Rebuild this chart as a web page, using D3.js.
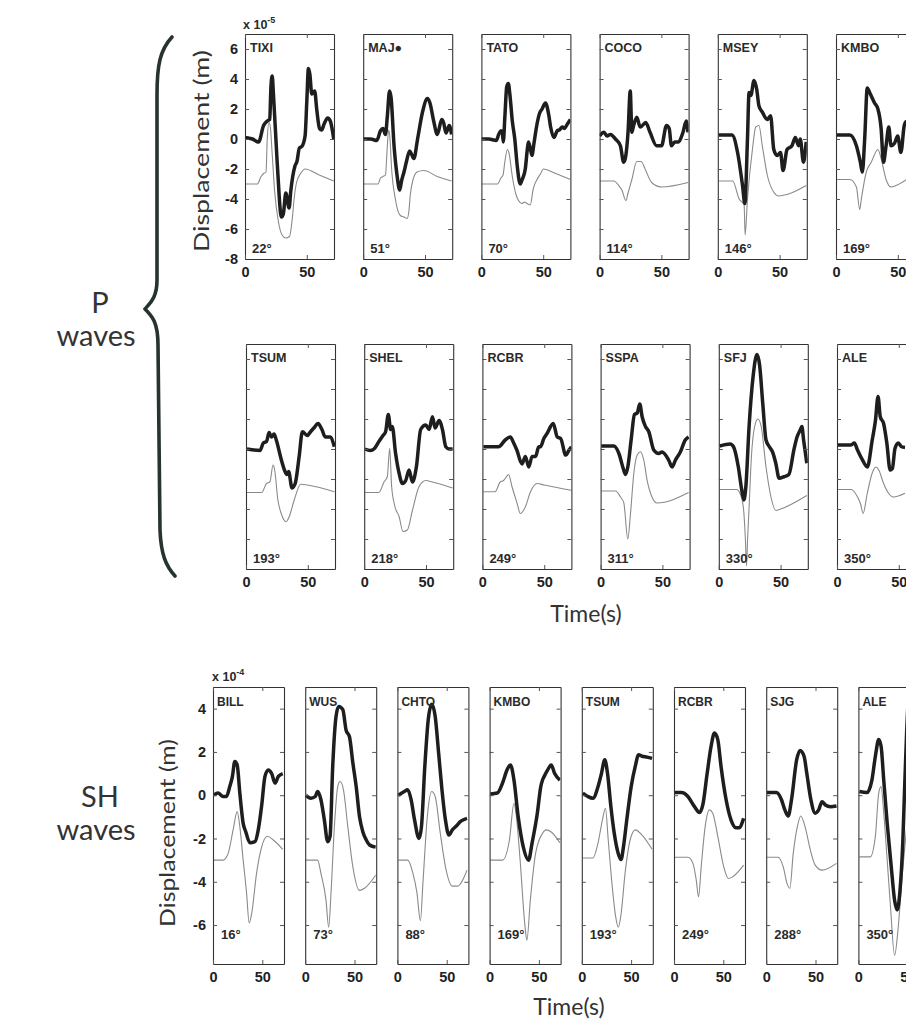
<!DOCTYPE html>
<html>
<head>
<meta charset="utf-8">
<script src="https://cdn.jsdelivr.net/npm/d3@7"></script>
<style>
  body { margin: 0; background: #fff; }
  svg { display: block; }
  .tick text { font-family: 'Liberation Sans', Arial, sans-serif; fill: #222; font-weight: bold; }
  .big { font-family: Lato, 'Open Sans', sans-serif; fill: #333; }
</style>
</head>
<body>
<script>
const W = 906;
const H = 1023;

// ---- P waves ----
const pStations = ['TIXI', 'MAJ\u25CF', 'TATO', 'COCO', 'MSEY', 'KMBO',
                   'TSUM', 'SHEL', 'RCBR', 'SSPA', 'SFJ', 'ALE'];
const pAzimuths = [22, 51, 70, 114, 146, 169, 193, 218, 249, 311, 330, 350];
const pYTicks = [-8, -6, -4, -2, 0, 2, 4, 6];

// observed (thick black), [time s, displacement x1e-5 m]
const pObserved = [
  [[0,0.1],[6,0],[11,-0.2],[15,0.9],[18,1.2],[20,1.3],[21,3.5],[22,4.2],[23,3.0],[26,-1.5],[29.5,-5.2],[31,-5.0],[33,-3.6],[35.7,-4.6],[37,-3.5],[40.4,-1.8],[42,-1.5],[44,-0.6],[46,-0.5],[48.6,0.2],[50,2.5],[51.3,4.7],[52.5,4.3],[54,3.0],[56.4,3.2],[58,2.0],[60.3,0.7],[62,0.6],[64,1.0],[66.9,1.4],[69,1.2],[71.8,0]],
  [[0,0],[6,0],[11,-0.1],[14,0.55],[16,0.7],[18,0.3],[19.5,1.5],[21.3,3.2],[22.5,2.8],[25,-0.5],[27.5,-2.5],[29.5,-3.4],[31,-2.8],[33,-2.2],[35,-1.5],[37.6,-0.8],[39,-1],[41,-1.3],[44,0],[48,1.8],[52,2.7],[54,2.4],[57,1.2],[60,0.3],[63.5,1.3],[65,1.1],[67,0.4],[69.6,0.9],[71.5,0.3]],
  [[0,0],[6,0],[12,-0.1],[14,0.3],[15.8,0.55],[17,0.4],[17.7,-0.2],[19,1.5],[20.5,3.5],[21.8,3.7],[23,3.0],[25,1.2],[27,0],[29,-1.8],[31.4,-3.0],[33,-2.7],[35.5,-2.0],[37,-0.8],[38,-0.2],[39.5,-0.6],[40.9,-1.1],[42.5,-0.3],[45,1.0],[47,1.7],[49.1,2.0],[51.8,2.4],[54.5,1.6],[56,0.8],[58.6,0.1],[61.4,0.55],[63,0.6],[65.5,0.8],[67,0.7],[69.6,1.0],[72,1.3]],
  [[0,0.2],[3.5,0.45],[6,0.2],[8.8,0.3],[12.8,0],[16.8,-0.45],[19.5,-1.55],[20.8,-1.3],[23,0.45],[24.8,3.2],[26.1,0.45],[27.5,0.9],[30.1,1.45],[32.8,0.8],[34,0.85],[37.3,1.1],[40.8,0.45],[46.1,-0.45],[50.1,-0.45],[54.1,0.9],[56.3,0.7],[58.1,-0.45],[60.8,-0.2],[63.5,-0.2],[67.5,0.45],[70.1,1.2],[71.5,0.45]],
  [[0.5,0.27],[11.5,0.27],[16,-0.9],[20,-3.1],[21.9,-4.3],[24,0],[25.3,3.1],[26.7,2.9],[29.3,3.9],[31.5,3.3],[33.3,2.2],[36,1.8],[40,1.3],[42.7,1.55],[45.3,-0.7],[48,-1.1],[50.7,-0.9],[52.8,-2.1],[56,-0.7],[60,-0.45],[62.7,0.1],[65.3,-0.45],[66.7,0],[69.3,-1.55],[71.5,-0.2]],
  [[0.5,0.27],[11.2,0.27],[16.5,-0.45],[19.7,-1.55],[21.3,-2.2],[23.2,0],[25.3,3.4],[27.2,3.1],[31.2,2.4],[33.9,2.0],[36.5,0.7],[38.4,-1.55],[40.5,-0.45],[42.7,0.8],[44.5,-0.45],[47.2,-0.3],[49.9,0.2],[52.5,-0.9],[55.2,0.9],[57,1.2]],
  [[0.8,0],[11.3,-0.1],[14,0.4],[16.6,0.5],[18.7,1.1],[20.6,0.8],[22.7,1.0],[24.5,0.6],[28.5,-0.7],[31.1,-1.4],[33,-1.7],[34.5,-1.5],[37.2,-2.6],[39.8,-2.3],[43,-0.5],[45.6,1.15],[49.6,0.9],[52.2,1.15],[54.9,1.4],[58.3,1.7],[61.4,1.3],[64.1,0.8],[68,0.8],[71.5,0.15]],
  [[0.5,0],[5,-0.1],[7.9,0],[11.9,0.5],[15.2,0.9],[17.3,1.15],[19.5,2.3],[21.4,1.3],[22.7,1.5],[25.4,-0.3],[28.2,-1.6],[30.9,-2.3],[33.6,-2.1],[36.3,-1.4],[39,-2.2],[42.2,-1.2],[45.7,1.3],[49.8,1.6],[52.5,1.3],[55.2,2.15],[57.4,1.4],[60.6,1.9],[63.3,1.3],[66,0.15],[68.8,0],[71.5,0]],
  [[0.8,0.15],[13,0.15],[18.5,0.6],[22.6,0.8],[25.3,0.4],[28,-0.1],[32,-1],[34.8,-0.5],[37.5,-1.2],[40.2,-0.5],[43,-0.5],[45.6,0.15],[47,0.15],[49.7,0.7],[52.4,1.05],[57.3,1.7],[60.6,0.8],[63.3,0.7],[67.4,-0.4],[70.1,-0.07],[72,0.15]],
  [[0.5,0.2],[10.7,0.2],[14.8,-0.3],[18.3,-1.3],[20.2,-1.7],[22,-1.2],[24.7,0.6],[27.4,2.3],[29.6,2.4],[31.7,3.0],[33.6,2.15],[36.3,1.5],[39,1.15],[43,-0.07],[47,-0.3],[49.7,-0.2],[55.1,-0.75],[57.8,-1.2],[60.5,-0.75],[64.5,-0.2],[68.5,0.6],[71.2,0.8]],
  [[0.8,0.2],[9.2,0.33],[11.9,0.15],[15.8,-1.2],[18.5,-2.7],[20.3,-3.4],[21.9,-2.5],[24.5,1.5],[27.7,4.8],[30.9,6.3],[33,5.6],[35.6,3.0],[38.2,0.6],[40.9,0.15],[43.5,-0.2],[46.1,-0.95],[48.8,-1.95],[52.7,-1.85],[56.7,-1.7],[60.7,-0.07],[63.3,0.8],[65.9,1.27],[67.2,1.5],[68.6,0.6],[71.2,-0.95]],
  [[0.8,0.27],[11.3,0.27],[14,0.4],[16.6,-0.07],[20.6,-0.73],[24.5,-1.2],[28.5,0.6],[31.1,1.9],[33.2,3.5],[35,2.15],[37.7,1.7],[40.3,0.4],[43,-1.4],[44.8,-1.3],[46.9,0.04],[49.6,0.4],[52.2,0.15],[55,0.1]]
];

// synthetic (thin grey), offset downwards
const pSynthetic = [
  [[0,-3],[10,-3],[13,-2.5],[15,-2.3],[17,-2.2],[18,0],[19.4,1.1],[20.5,0.8],[22,-1],[24,-3.5],[27,-5.5],[30,-6.4],[33,-6.6],[36,-6.5],[38,-5.5],[40,-3.8],[41.7,-2.9],[45,-2.3],[48.6,-2.0],[60,-2.4],[71.8,-2.8]],
  [[0,-3],[12,-3],[14,-2.6],[16,-2.5],[18,-2.4],[19.5,-0.5],[20.5,0.6],[21.5,0.2],[23,-2],[26,-4],[30,-5.1],[33,-5.2],[35.5,-5.3],[37,-4.8],[38,-3.8],[40,-2.8],[43.6,-2.2],[49,-2.1],[60,-2.5],[71.5,-2.8]],
  [[0,-3],[13,-3],[15.8,-2.6],[17.5,-2.4],[19,-1.5],[21,-0.7],[22.5,-1.0],[25,-2.5],[28,-3.7],[30,-4.1],[32.7,-4.3],[35,-4.2],[37,-4.3],[39.5,-4.4],[42,-3.3],[45,-2.7],[48,-2.3],[50,-2.0],[60,-2.3],[72,-2.7]],
  [[0,-2.8],[11.5,-2.8],[15.5,-3.1],[18,-3.4],[21.3,-4.1],[23,-3.6],[26.1,-2.7],[30.1,-1.5],[33.6,-1.5],[36.8,-2.0],[42.1,-2.9],[50.1,-3.2],[71.5,-2.9]],
  [[0.5,-2.8],[12,-2.8],[17.3,-4],[21.3,-4.4],[22.1,-6.4],[24,-4.0],[28,-0.7],[30.7,0.8],[33.3,0.9],[36,-0.45],[40,-2.4],[45.3,-3.55],[49.3,-3.8],[56,-3.7],[71.5,-3.1]],
  [[0.5,-2.7],[11.2,-2.7],[16.5,-3.2],[19.2,-4.7],[20.5,-4],[24.5,-2.2],[28.5,-1.55],[33.9,-0.7],[36.5,-1.3],[40.5,-2.7],[44.5,-3.2],[48.5,-3.1],[57,-2.7]],
  [[0.8,-2.9],[12.7,-2.9],[16.6,-2.3],[19.3,-2.2],[21.9,-1.07],[23.2,-1.4],[25.8,-3.4],[28.5,-4.3],[32.4,-4.85],[35,-4.5],[39,-3.4],[44.3,-2.35],[49.6,-2.4],[71.5,-2.85]],
  [[0.5,-2.9],[11.9,-2.9],[16,-2.2],[18.7,-1.85],[20.6,0.05],[22.2,-2.5],[24.9,-3.85],[28.2,-4.5],[31.4,-5.5],[34.9,-5.4],[39,-4.1],[44.4,-2.5],[49.8,-2.1],[55.2,-2.2],[71.5,-2.6]],
  [[0.8,-2.85],[10.3,-2.85],[14.4,-2.2],[17.1,-2.1],[19,-1.9],[21.2,-1.7],[23.9,-2.5],[28,-3.6],[30.7,-4.3],[34.8,-3.85],[38.9,-2.85],[44.3,-2.3],[50,-2.4],[72,-2.75]],
  [[0.5,-2.8],[12.1,-2.8],[16.1,-3.2],[18.8,-3.6],[22,-6.0],[24.2,-4.3],[26.9,-1.6],[29.6,-0.4],[32.2,-0.18],[34.9,-0.73],[37.6,-2.07],[41.6,-3.2],[45.7,-3.6],[71.2,-2.9]],
  [[0.8,-2.7],[14.5,-2.7],[17.1,-2.95],[19.8,-3.85],[21.5,-6],[22.4,-7.8],[23.3,-6],[24.5,-3.9],[26.4,-0.5],[29,1.5],[31.6,2.0],[34.3,1.5],[38.2,-1.2],[42.2,-3.2],[46.1,-4.1],[50.1,-4.0],[71.2,-3.1]],
  [[0.8,-2.7],[11.3,-2.7],[16.6,-3.2],[19.2,-3.7],[21.1,-4.3],[24.5,-2.95],[28.5,-1.6],[31.6,-1.2],[33.8,-1.4],[37.7,-2.3],[41.7,-2.95],[45.6,-3.2],[55,-2.95]]
];

// ---- SH waves ----
const shStations = ['BILL', 'WUS', 'CHTO', 'KMBO', 'TSUM', 'RCBR', 'SJG', 'ALE'];
const shAzimuths = [16, 73, 88, 169, 193, 249, 288, 350];
const shYTicks = [-6, -4, -2, 0, 2, 4];

// observed (thick black), [time s, displacement x1e-4 m]
const shObserved = [
  [[0.7,0],[5.1,0.1],[10.2,-0.06],[13.6,-0.06],[17,0.4],[19.7,0.87],[22.1,1.56],[24.5,1.4],[27.2,0.1],[30.6,-1.3],[33.3,-1.7],[37.4,-2.2],[42.5,-2.15],[45.9,-1.6],[49.3,-0.5],[52.7,0.87],[56.1,1.17],[59.5,1.0],[62.9,0.56],[66.3,0.87],[70.7,1.0]],
  [[0.7,0],[5.8,-0.14],[10.2,-0.06],[12.6,0.17],[15.9,-0.2],[19.4,-1.14],[22.8,-2.15],[25.2,-1.9],[27.9,1.33],[31.3,3.65],[34,4.1],[38.1,3.96],[41.5,3.0],[44.9,2.7],[48.3,1.5],[51.7,0.4],[55.1,-1.0],[58.5,-1.7],[61.9,-2.07],[65.3,-2.3],[71.4,-2.4]],
  [[1,0],[7,0.17],[10.4,0.25],[13.9,-0.2],[17.4,-1.14],[21.9,-2.0],[24.4,-1.45],[27.8,1.33],[31.3,3.5],[34.8,4.2],[38.3,3.65],[41.8,1.95],[45.2,0.25],[48.7,-1.14],[52.2,-1.84],[55.7,-1.6],[59.2,-1.45],[64.4,-1.2],[70.6,-1.07]],
  [[0.7,0.06],[7.8,0.1],[13.1,0.56],[17.7,1.17],[21.2,1.4],[24.7,0.7],[29,-1.0],[34.2,-2.4],[39.5,-3.0],[43.1,-2.2],[48.4,-0.83],[51.9,0.4],[53.7,0.7],[55.4,0.87],[58.9,1.17],[62.5,1.4],[66,1.0],[71.3,0.7]],
  [[1,0.1],[6.2,-0.06],[11.3,-0.14],[16.5,0.4],[19.9,1.0],[23.3,1.64],[26.1,1.0],[29.5,-0.53],[32.9,-1.76],[37,-2.7],[39.8,-2.97],[42.2,-2.4],[45.6,-1.14],[50.1,0.4],[54.2,1.33],[57.6,1.87],[61.1,1.8],[66.2,1.76],[71.3,1.7]],
  [[0.7,0.12],[7.4,0.12],[14.1,-0.06],[20.8,-0.53],[25.9,-0.8],[29.2,-0.45],[33.6,1.0],[37.6,2.26],[41,2.87],[44.4,2.57],[47.7,1.33],[52.8,-0.2],[57.8,-1.14],[62.8,-1.5],[66,-1.5],[70.6,-1.07]],
  [[0.7,0.12],[10.3,0.12],[15.4,-0.2],[18.9,-0.68],[22.3,-0.96],[25.7,-0.2],[30.9,1.64],[34.3,2.07],[38.4,1.8],[41.2,1.0],[45.3,-0.2],[49.7,-0.83],[53.2,-0.68],[56.6,-0.3],[60,-0.45],[65.2,-0.53],[71.3,-0.5]],
  [[1,0.17],[8.6,0.12],[13.7,0.7],[17.2,1.8],[20.6,2.57],[23,2.26],[25.7,0.7],[29.2,-1.3],[33.3,-3.3],[36.7,-4.85],[39.4,-5.3],[42.2,-4.4],[45,-2.2],[47,0.5],[49,3.0],[51,5]]
];

// synthetic (thin grey), offset downwards
const shSynthetic = [
  [[0.7,-3.0],[10.2,-3.0],[15.3,-2.7],[20.4,-1.6],[24.5,-0.76],[27.2,-1.45],[30.6,-3.0],[34,-4.5],[36.7,-5.9],[39.1,-5.5],[44.2,-3.6],[49.3,-2.4],[55.1,-1.9],[61.2,-2.07],[70.7,-2.5]],
  [[0.7,-3.0],[12.6,-3.0],[15.9,-3.6],[21.1,-4.85],[23.8,-6.1],[26.2,-4.5],[29.6,-1.45],[33,0.4],[35.4,0.63],[38.8,0.25],[43.2,-1.45],[48.3,-3.3],[55.1,-4.4],[60.2,-4.3],[71.4,-3.7]],
  [[1,-3.0],[10.4,-3.0],[15.7,-3.6],[19.8,-4.5],[23.3,-5.8],[26.1,-3.9],[30.3,-1.0],[34.8,0.17],[38.3,-0.06],[43.5,-1.76],[48.7,-3.3],[55.7,-4.2],[60.9,-4.2],[70.6,-3.46]],
  [[0.7,-3.0],[13.1,-3.0],[20.1,-2.07],[24.7,-0.37],[27.2,-1.0],[30.7,-2.85],[36,-6.1],[37.8,-6.7],[41.3,-4.85],[46.6,-2.7],[53.7,-1.76],[57.2,-1.6],[62.5,-1.7],[71.3,-2.2]],
  [[1,-2.9],[11.3,-2.9],[16.5,-2.2],[20.9,-1.14],[24,-0.6],[26.8,-2.07],[30.2,-3.9],[34.3,-5.6],[37,-6.1],[39.8,-5.5],[43.9,-3.6],[49,-2.07],[54.2,-1.6],[61.1,-1.84],[71.3,-2.5]],
  [[0.7,-2.87],[14.1,-2.87],[19.2,-3.15],[22.5,-3.9],[24.9,-4.7],[27.6,-3.3],[31.6,-1.45],[36,-0.68],[39.3,-0.83],[44.4,-1.9],[50.4,-3.3],[55.1,-3.85],[59.5,-3.77],[70.6,-3.23]],
  [[0.7,-2.87],[12,-2.87],[17.2,-3.3],[21.3,-4.1],[24,-4.3],[27.4,-2.7],[31.6,-1.45],[35,-0.96],[39.4,-1.45],[44.6,-2.5],[49.7,-3.23],[56.6,-3.46],[71.3,-3.15]],
  [[1,-2.85],[12,-2.85],[17.2,-1.9],[20.6,0.1],[23,0.4],[25.7,-0.83],[29.2,-3.0],[32.6,-5.2],[36.7,-7.4],[40.1,-6.25],[44.6,-3.6],[49,-1.45]]
];

const timeTicks = [0, 50];
const timeDomain = [0, 72];

const svg = d3.select('body').append('svg')
  .attr('width', W)
  .attr('height', H)
  .attr('viewBox', [0, 0, W, H]);

const defs = svg.append('defs');
let panelCount = 0;

// one MATLAB-style subplot: boxed, inward ticks, two traces
function drawPanel(p) {
  const id = panelCount++;
  const x = d3.scaleLinear().domain(timeDomain).range([p.left, p.left + p.width]);
  const y = d3.scaleLinear().domain(p.yDomain).range([p.top + p.height, p.top]);

  defs.append('clipPath').attr('id', `clip${id}`)
    .append('rect')
      .attr('x', p.left).attr('y', p.top)
      .attr('width', p.width).attr('height', p.height);

  const g = svg.append('g').attr('class', 'panel');

  const line = d3.line()
    .x(d => x(d[0]))
    .y(d => y(d[1]))
    .curve(d3.curveMonotoneX);

  g.append('path')
    .datum(p.syn)
    .attr('clip-path', `url(#clip${id})`)
    .attr('d', line)
    .attr('fill', 'none')
    .attr('stroke', '#8a8a8a')
    .attr('stroke-width', 1.1);

  g.append('path')
    .datum(p.obs)
    .attr('clip-path', `url(#clip${id})`)
    .attr('d', line)
    .attr('fill', 'none')
    .attr('stroke', '#1e1e1e')
    .attr('stroke-width', 3.5)
    .attr('stroke-linejoin', 'round');

  const fmt = d => String(d);

  const axL = g.append('g')
    .attr('transform', `translate(${p.left},0)`)
    .call(d3.axisLeft(y).tickValues(p.yTicks).tickSizeInner(-4).tickSizeOuter(0)
      .tickPadding(7).tickFormat(p.yLabels ? fmt : ''));
  const axR = g.append('g')
    .attr('transform', `translate(${p.left + p.width},0)`)
    .call(d3.axisRight(y).tickValues(p.yTicks).tickSizeInner(-4).tickSizeOuter(0).tickFormat(''));
  const axB = g.append('g')
    .attr('transform', `translate(0,${p.top + p.height})`)
    .call(d3.axisBottom(x).tickValues(timeTicks).tickSizeInner(-4).tickSizeOuter(0)
      .tickPadding(8).tickFormat(fmt));
  const axT = g.append('g')
    .attr('transform', `translate(0,${p.top})`)
    .call(d3.axisTop(x).tickValues(timeTicks).tickSizeInner(-4).tickSizeOuter(0).tickFormat(''));

  [axL, axR, axB, axT].forEach(a => {
    a.selectAll('.domain').attr('stroke', '#333').attr('stroke-width', 1.1);
    a.selectAll('.tick line').attr('stroke', '#555');
    a.selectAll('.tick text').attr('font-size', 14.5).attr('font-family', null);
  });
  axB.selectAll('.tick text').attr('dy', '0.71em');

  g.append('text')
    .attr('x', p.left + p.nameDx)
    .attr('y', p.top + p.nameDy)
    .attr('font-family', "'Liberation Sans', Arial, sans-serif")
    .attr('font-weight', 'bold')
    .attr('font-size', p.nameSize)
    .attr('fill', '#2a2a2a')
    .text(p.name);

  g.append('text')
    .attr('x', p.left + p.azDx)
    .attr('y', p.top + p.height - p.azDy)
    .attr('font-family', "'Liberation Sans', Arial, sans-serif")
    .attr('font-weight', 'bold')
    .attr('font-size', 13)
    .attr('fill', '#2a2a2a')
    .text(`${p.az}\u00B0`);
}

// P waves: two rows of six
pStations.forEach((name, i) => {
  const row = Math.floor(i / 6);
  const col = i % 6;
  drawPanel({
    left: 245 + row + col * 118.2,
    top: row === 0 ? 34 : 344,
    width: 89,
    height: 225,
    yDomain: [-8, 7],
    yTicks: pYTicks,
    yLabels: row === 0 && col === 0,
    name, az: pAzimuths[i],
    obs: pObserved[i], syn: pSynthetic[i],
    nameDx: 5, nameDy: 18, nameSize: 12.5,
    azDx: 7, azDy: 6
  });
});

// SH waves: one row of eight
shStations.forEach((name, i) => {
  drawPanel({
    left: 213 + i * 92.2,
    top: 687,
    width: 71,
    height: 277,
    yDomain: [-7.8, 5],
    yTicks: shYTicks,
    yLabels: i === 0,
    name, az: shAzimuths[i],
    obs: shObserved[i], syn: shSynthetic[i],
    nameDx: 4, nameDy: 19, nameSize: 12,
    azDx: 8, azDy: 25
  });
});

// exponent labels
function exponent(xp, yp, power) {
  const t = svg.append('text')
    .attr('x', xp).attr('y', yp)
    .attr('font-family', "'Liberation Sans', Arial, sans-serif")
    .attr('font-weight', 'bold')
    .attr('font-size', 12.5)
    .attr('fill', '#2a2a2a');
  t.append('tspan').text('x 10');
  t.append('tspan').attr('font-size', 9).attr('dy', -6).text(power);
}
exponent(243, 29, '-5');
exponent(212, 681, '-4');

// axis titles
function vLabel(xp, yp, len) {
  svg.append('text')
    .attr('class', 'big')
    .attr('transform', `translate(${xp},${yp}) rotate(-90)`)
    .attr('text-anchor', 'middle')
    .attr('font-size', 21)
    .attr('textLength', len)
    .attr('lengthAdjust', 'spacingAndGlyphs')
    .text('Displacement (m)');
}
vLabel(209, 151, 202);
vLabel(175, 833, 188);

svg.append('text').attr('class', 'big')
  .attr('x', 586).attr('y', 622)
  .attr('text-anchor', 'middle').attr('font-size', 23)
  .text('Time(s)');
svg.append('text').attr('class', 'big')
  .attr('x', 569).attr('y', 1015)
  .attr('text-anchor', 'middle').attr('font-size', 23)
  .text('Time(s)');

// group labels
function groupLabel(xp, yp, first) {
  const t = svg.append('text').attr('class', 'big')
    .attr('text-anchor', 'middle')
    .attr('font-size', 29);
  t.append('tspan').attr('x', xp).attr('y', yp).text(first);
  t.append('tspan').attr('x', xp - 4).attr('y', yp + 33).text('waves');
}
groupLabel(100, 313, 'P');
groupLabel(100, 807, 'SH');

// curly brace for the P rows
const brace = d3.path();
brace.moveTo(172, 37);
brace.bezierCurveTo(160, 50, 157, 65, 157, 95);
brace.lineTo(157, 280);
brace.bezierCurveTo(157, 298, 150, 303, 145, 309);
brace.bezierCurveTo(152, 316, 158, 322, 158, 345);
brace.lineTo(160, 530);
brace.bezierCurveTo(161, 555, 166, 566, 175, 576);

svg.append('path')
  .attr('d', brace.toString())
  .attr('fill', 'none')
  .attr('stroke', '#263330')
  .attr('stroke-width', 3.6)
  .attr('stroke-linecap', 'round')
  .attr('stroke-linejoin', 'round');
</script>
</body>
</html>
